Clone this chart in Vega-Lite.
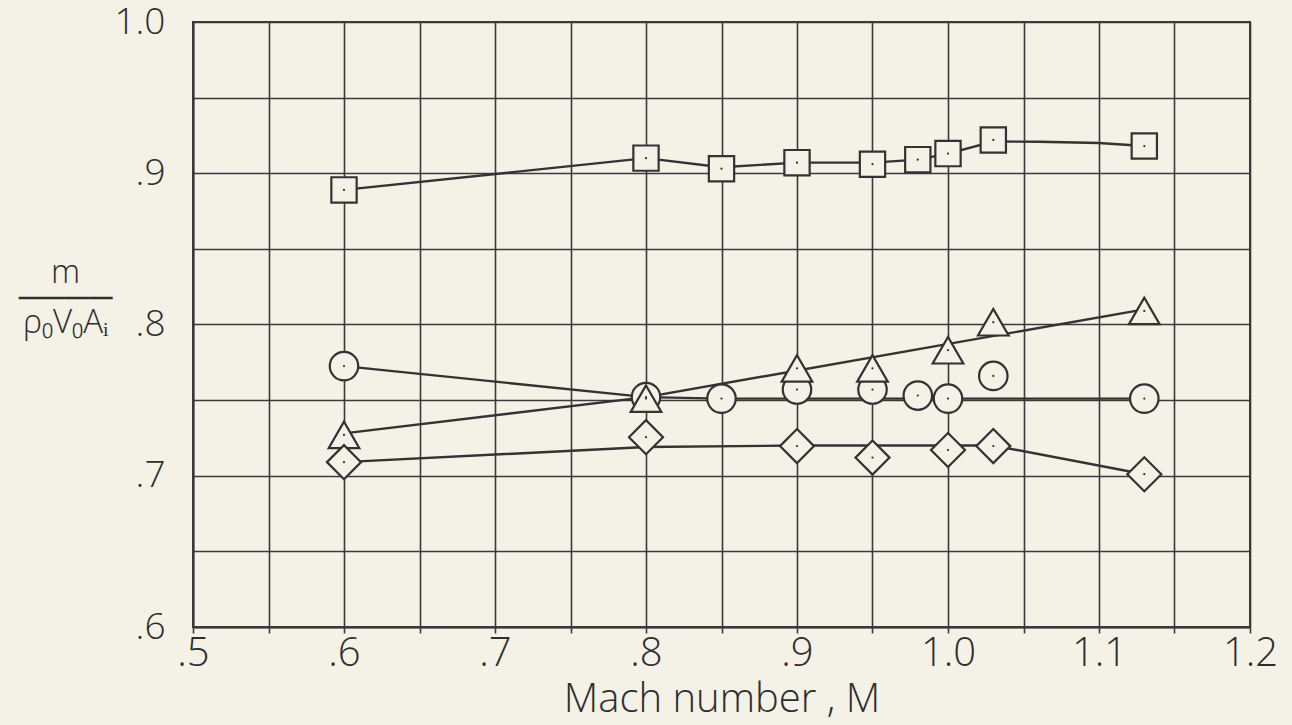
{
  "$schema": "https://vega.github.io/schema/vega-lite/v6.json",
  "autosize": "none",
  "width": 1057,
  "height": 605,
  "padding": {"left": 193, "top": 22, "right": 42, "bottom": 98},
  "background": "#f4f1e7",
  "config": {
    "view": {"stroke": "#3a3a3a", "strokeWidth": 2},
    "font": "Open Sans",
    "axis": {
      "gridColor": "#3a3a3a",
      "gridWidth": 1.6,
      "gridOpacity": 1,
      "domainColor": "#3a3a3a",
      "domainWidth": 2,
      "tickColor": "#3a3a3a",
      "tickWidth": 1.6,
      "labelFont": "Open Sans",
      "labelFontWeight": 300,
      "labelColor": "#2e2e2e",
      "titleFont": "Open Sans",
      "titleFontWeight": 300,
      "titleColor": "#2e2e2e"
    }
  },
  "datasets": {
    "pts": [
      {"M": 0.6, "v": 0.889, "s": "square"},
      {"M": 0.8, "v": 0.910, "s": "square"},
      {"M": 0.85, "v": 0.903, "s": "square"},
      {"M": 0.9, "v": 0.907, "s": "square"},
      {"M": 0.95, "v": 0.906, "s": "square"},
      {"M": 0.98, "v": 0.909, "s": "square"},
      {"M": 1.0, "v": 0.913, "s": "square"},
      {"M": 1.03, "v": 0.922, "s": "square"},
      {"M": 1.13, "v": 0.918, "s": "square"},
      {"M": 0.6, "v": 0.7725, "s": "circle"},
      {"M": 0.8, "v": 0.752, "s": "circle"},
      {"M": 0.85, "v": 0.751, "s": "circle"},
      {"M": 0.9, "v": 0.757, "s": "circle"},
      {"M": 0.95, "v": 0.757, "s": "circle"},
      {"M": 0.98, "v": 0.753, "s": "circle"},
      {"M": 1.0, "v": 0.751, "s": "circle"},
      {"M": 1.03, "v": 0.766, "s": "circle"},
      {"M": 1.13, "v": 0.751, "s": "circle"},
      {"M": 0.6, "v": 0.727, "s": "triangle"},
      {"M": 0.8, "v": 0.751, "s": "triangle"},
      {"M": 0.9, "v": 0.771, "s": "triangle"},
      {"M": 0.95, "v": 0.771, "s": "triangle"},
      {"M": 1.0, "v": 0.783, "s": "triangle"},
      {"M": 1.03, "v": 0.8015, "s": "triangle"},
      {"M": 1.13, "v": 0.809, "s": "triangle"},
      {"M": 0.6, "v": 0.709, "s": "diamond"},
      {"M": 0.8, "v": 0.7255, "s": "diamond"},
      {"M": 0.9, "v": 0.7196, "s": "diamond"},
      {"M": 0.95, "v": 0.712, "s": "diamond"},
      {"M": 1.0, "v": 0.717, "s": "diamond"},
      {"M": 1.03, "v": 0.7196, "s": "diamond"},
      {"M": 1.13, "v": 0.701, "s": "diamond"}
    ],
    "fair": [
      {"M": 0.6, "v": 0.889, "s": "square"},
      {"M": 0.8, "v": 0.910, "s": "square"},
      {"M": 0.85, "v": 0.904, "s": "square"},
      {"M": 0.9, "v": 0.907, "s": "square"},
      {"M": 0.95, "v": 0.907, "s": "square"},
      {"M": 0.98, "v": 0.909, "s": "square"},
      {"M": 1.0, "v": 0.913, "s": "square"},
      {"M": 1.03, "v": 0.921, "s": "square"},
      {"M": 1.06, "v": 0.9208, "s": "square"},
      {"M": 1.1, "v": 0.920, "s": "square"},
      {"M": 1.13, "v": 0.918, "s": "square"},
      {"M": 0.6, "v": 0.7725, "s": "circle"},
      {"M": 0.8, "v": 0.752, "s": "circle"},
      {"M": 0.85, "v": 0.751, "s": "circle"},
      {"M": 1.13, "v": 0.751, "s": "circle"},
      {"M": 0.6, "v": 0.728, "s": "triangle"},
      {"M": 0.8, "v": 0.752, "s": "triangle"},
      {"M": 1.13, "v": 0.810, "s": "triangle"},
      {"M": 0.6, "v": 0.709, "s": "diamond"},
      {"M": 0.8, "v": 0.719, "s": "diamond"},
      {"M": 0.9, "v": 0.720, "s": "diamond"},
      {"M": 1.03, "v": 0.720, "s": "diamond"},
      {"M": 1.13, "v": 0.701, "s": "diamond"}
    ]
  },
  "encoding": {
    "x": {
      "field": "M",
      "type": "quantitative",
      "scale": {"domain": [0.5, 1.2], "nice": false, "zero": false},
      "axis": {
        "values": [0.5, 0.55, 0.6, 0.65, 0.7, 0.75, 0.8, 0.85, 0.9, 0.95, 1.0, 1.05, 1.1, 1.15, 1.2],
        "labelExpr": "abs(round(datum.value*10) - datum.value*10) > 0.01 ? '' : (datum.value > 0.99 ? format(datum.value, '.1f') : replace(format(datum.value, '.1f'), '0.', '.'))",
        "labelFontSize": 40,
        "labelPadding": 0,
        "tickSize": 6,
        "labelFlush": false,
        "title": "Mach number , M",
        "titleFontSize": 40,
        "titlePadding": 6
      }
    },
    "y": {
      "field": "v",
      "type": "quantitative",
      "scale": {"domain": [0.6, 1.0], "nice": false, "zero": false},
      "axis": {
        "values": [0.6, 0.65, 0.7, 0.75, 0.8, 0.85, 0.9, 0.95, 1.0],
        "labelExpr": "abs(round(datum.value*10) - datum.value*10) > 0.01 ? '' : (datum.value > 0.99 ? format(datum.value, '.1f') : replace(format(datum.value, '.1f'), '0.', '.'))",
        "labelFontSize": 37,
        "labelPadding": 28,
        "ticks": false,
        "labelFlush": false,
        "title": ["m", "────", "ρ₀V₀Aᵢ"],
        "titleFontSize": 33,
        "titleLineHeight": 25,
        "titleAngle": 0,
        "titleAlign": "center",
        "titleBaseline": "middle",
        "titleX": -128,
        "titleY": 250
      }
    }
  },
  "layer": [
    {
      "data": {"name": "fair"},
      "mark": {"type": "line", "interpolate": "linear", "stroke": "#333333", "strokeWidth": 2.4},
      "encoding": {"detail": {"field": "s", "type": "nominal"}}
    },
    {
      "data": {"name": "pts"},
      "transform": [{"filter": "datum.s == 'square'"}],
      "mark": {"type": "point", "shape": "square", "size": 640, "filled": false, "fill": "#f4f1e7", "fillOpacity": 1, "stroke": "#333333", "strokeWidth": 2.2, "opacity": 1}
    },
    {
      "data": {"name": "pts"},
      "transform": [{"filter": "datum.s == 'circle'"}],
      "mark": {"type": "point", "shape": "circle", "size": 810, "filled": false, "fill": "#f4f1e7", "fillOpacity": 1, "stroke": "#333333", "strokeWidth": 2.2, "opacity": 1}
    },
    {
      "data": {"name": "pts"},
      "transform": [{"filter": "datum.s == 'triangle'"}],
      "mark": {"type": "point", "shape": "triangle-up", "size": 940, "filled": false, "fill": "#f4f1e7", "fillOpacity": 1, "stroke": "#333333", "strokeWidth": 2.2, "opacity": 1}
    },
    {
      "data": {"name": "pts"},
      "transform": [{"filter": "datum.s == 'diamond'"}],
      "mark": {"type": "point", "shape": "diamond", "size": 1160, "filled": false, "fill": "#f4f1e7", "fillOpacity": 1, "stroke": "#333333", "strokeWidth": 2.2, "opacity": 1}
    },
    {
      "data": {"name": "pts"},
      "mark": {"type": "circle", "size": 5, "color": "#333333", "opacity": 1}
    }
  ]
}
